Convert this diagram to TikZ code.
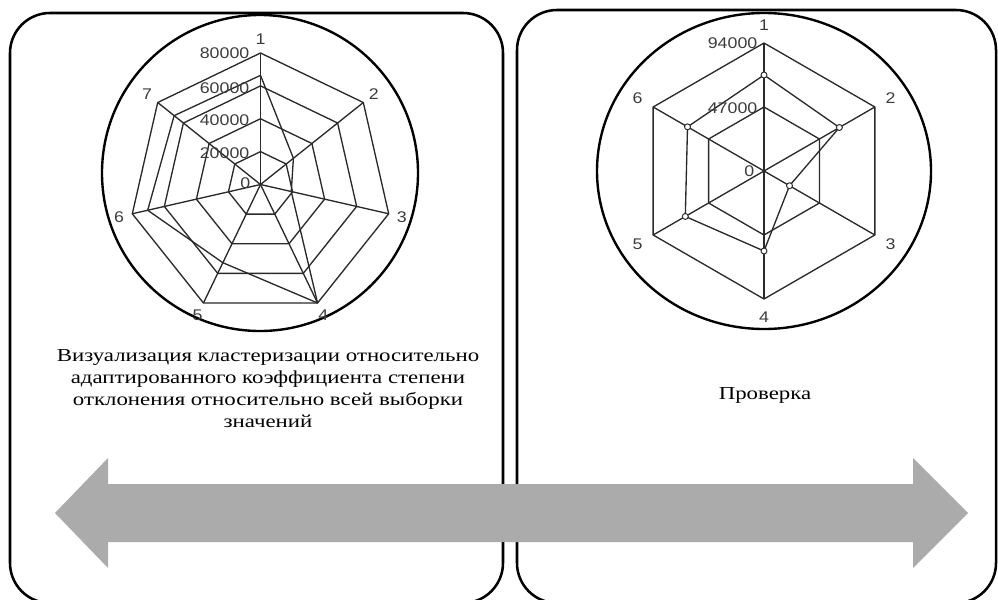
\documentclass[tikz,border=0pt]{standalone}
\usepackage{fontspec}
\setmainfont{Liberation Serif}[FakeStretch=1.25]
\newfontfamily\chartfont{Liberation Sans}[FakeStretch=1.15]
\definecolor{gridline}{HTML}{2A2A2A}
\definecolor{labelgray}{HTML}{3C3C3C}
\definecolor{arrowgray}{HTML}{ABABAB}

\begin{document}
\begin{tikzpicture}[x=0.025cm,y=-0.025cm,line join=round,font=\fontsize{13}{15.6}\selectfont]
        \tikzset{panel/.style={draw, line width=1.8pt, rounded corners=1cm},
          ring/.style={draw=gridline, line width=0.95pt},
          dial/.style={draw, line width=1.7pt},
          tick/.style={font=\chartfont\fontsize{11}{13}\selectfont, text=labelgray, inner sep=1pt},
          marker/.style={draw=gridline, fill=white, line width=0.7pt},
          caption/.style={align=center}}
        \useasboundingbox (0,0) rectangle (998,599);

        % two panels
        \draw[panel] (10,13) rectangle (503,603);
        \draw[panel] (517,10) rectangle (996,603);

        % left chart, 7 axes
        \draw[dial] (260,173) circle[radius=158];
        \begin{scope}[shift={(260.5,184.5)},yscale=-1]
          \foreach \lev in {0.25,0.5,0.75,1}
            \draw[ring] (90:{\lev*131.5}) \foreach \i in {1,...,6} {-- ({90-\i*360/7}:{\lev*131.5})} -- cycle;
          \foreach \i in {1,...,7} {
            \draw[ring] (0,0) -- ({90-(\i-1)*360/7}:131.5);
            \node[tick] (l\i) at ({90-(\i-1)*360/7}:145) {\i};
          }
          \draw[ring] (90:{0.83*131.5}) \foreach \v [count=\i from 2] in {0.32,0.24,1,0.66,0.88,0.84} {-- ({90-(\i-1)*360/7}:{\v*131.5})} -- cycle;
        \end{scope}
        \node[tick,anchor=east] (lv4) at (251,53) {80000};
        \node[tick,anchor=east] (lv3) at (251,88) {60000};
        \node[tick,anchor=east] (lv2) at (251,120) {40000};
        \node[tick,anchor=east] (lv1) at (251,153) {20000};
        \node[tick,anchor=east] (lv0) at (252,183) {0};

        % right chart, 6 axes
        \draw[dial] (764,171) ellipse[x radius=167, y radius=158];
        \begin{scope}[shift={(764,171)},yscale=-1]
          \foreach \lev in {0.5,1}
            \draw[ring] (90:{\lev*128}) \foreach \i in {1,...,5} {-- ({90-\i*60}:{\lev*128})} -- cycle;
          \foreach \i in {1,...,6} {
            \draw[ring] (0,0) -- ({90-(\i-1)*60}:128);
            \node[tick] (r\i) at ({90-(\i-1)*60}:146) {\i};
          }
          \draw[ring] (90:{0.75*128}) \foreach \v [count=\i from 2] in {0.68,0.23,0.625,0.71,0.69} {-- ({90-(\i-1)*60}:{\v*128})} -- cycle;
          \foreach \v [count=\i] in {0.75,0.68,0.23,0.625,0.71,0.69}
            \draw[marker] ({90-(\i-1)*60}:{\v*128}) circle[radius=3];
        \end{scope}
        \node[tick,anchor=east] (rv2) at (759,43) {94000};
        \node[tick,anchor=east] (rv1) at (759,108) {47000};
        \node[tick,anchor=east] (rv0) at (756,171) {0};

        % captions
        \node[caption] (about) at (268,389) {Визуализация кластеризации относительно\\адаптированного коэффициента степени\\отклонения относительно всей выборки\\значений};
        \node[caption] (check) at (765,395) {Проверка};

        % wide double arrow
        \fill[arrowgray] (55,513) -- (108,458) -- (108,484) -- (913,484) -- (913,458) -- (968,513)
          -- (913,568) -- (913,542) -- (108,542) -- (108,568) -- cycle;
    \end{tikzpicture}
\end{document}
